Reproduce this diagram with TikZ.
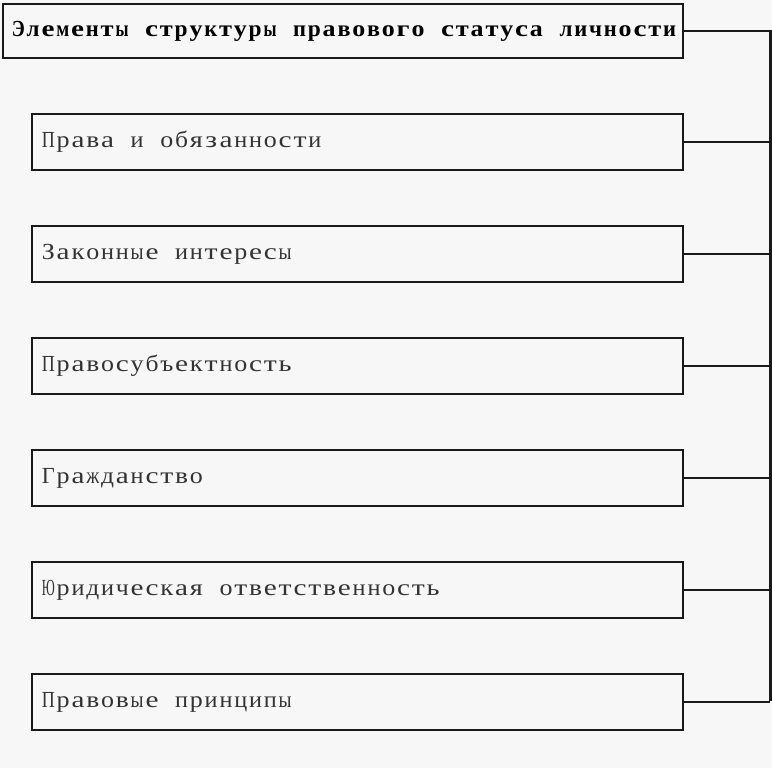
\documentclass[tikz,border=0pt]{standalone}
\usepackage{fontspec}
\newfontfamily\cellfont{Liberation Serif}
\ExplSyntaxOn
\dim_new:N \l_cellw_dim
\dim_new:N \l_cellmax_dim
\fp_new:N \l_cellscale_fp
\box_new:N \l_cellchar_box
\cs_new_protected:Npn \cellchar #1
  {
    \hbox_set:Nn \l_cellchar_box {#1}
    \fp_set:Nn \l_cellscale_fp
      { min(1.3, \dim_to_fp:n {\l_cellmax_dim} / \dim_to_fp:n { \box_wd:N \l_cellchar_box + 0.01pt }) }
    \box_scale:Nnn \l_cellchar_box { \l_cellscale_fp } { 1 }
    \makebox[\l_cellw_dim][c]{ \box_use:N \l_cellchar_box }
  }
\cs_new_protected:Npn \cellword #1
  { \tl_map_inline:nn {#1} { \cellchar{##1} } }
\NewDocumentCommand\monoline{O{14.8pt}m}
  {
    \dim_set:Nn \l_cellw_dim {#1}
    \dim_set:Nn \l_cellmax_dim {#1 - 1.8pt}
    \seq_set_split:Nnn \l_tmpa_seq {~} {#2}
    \seq_map_inline:Nn \l_tmpa_seq { \cellword{##1}\hspace*{\l_cellw_dim} }
    \unskip
  }
\ExplSyntaxOff
\begin{document}
\begin{tikzpicture}[x=1pt,y=-1pt,
  itembox/.style={draw=black!90, line width=2pt, anchor=north west, minimum width=651pt, minimum height=56pt, text width=633pt, inner xsep=9pt, align=left, font=\cellfont\fontsize{23}{27}\selectfont, text=black!80},
  titlebox/.style={itembox, minimum width=680pt, minimum height=54pt, text width=664pt, inner xsep=8pt, font=\cellfont\bfseries\fontsize{23}{27}\selectfont, text=black},
  link/.style={line width=2pt, draw=black!90},
  spine/.style={line width=3pt, draw=black!90}]
\fill[black!3] (0,0) rectangle (772,768);
\useasboundingbox (0,0) rectangle (772,768);
\node[titlebox] (title) at (2,3) {\monoline{Элементы структуры правового статуса личности}};
\node[itembox] (b1) at (31,113) {\monoline{Права и обязанности}};
\node[itembox] (b2) at (31,225) {\monoline{Законные интересы}};
\node[itembox] (b3) at (31,337) {\monoline{Правосубъектность}};
\node[itembox] (b4) at (31,449) {\monoline{Гражданство}};
\node[itembox] (b5) at (31,561) {\monoline{Юридическая ответственность}};
\node[itembox] (b6) at (31,673) {\monoline{Правовые принципы}};
\coordinate (top) at (770,30);
\coordinate (bot) at (770,701);
\draw[link] (title.east) -- (title.east -| top);
\draw[spine] (top) -- (bot);
\foreach \b in {b1,b2,b3,b4,b5,b6} \draw[link] (\b.east) -- (\b.east -| top);
\end{tikzpicture}
\end{document}
